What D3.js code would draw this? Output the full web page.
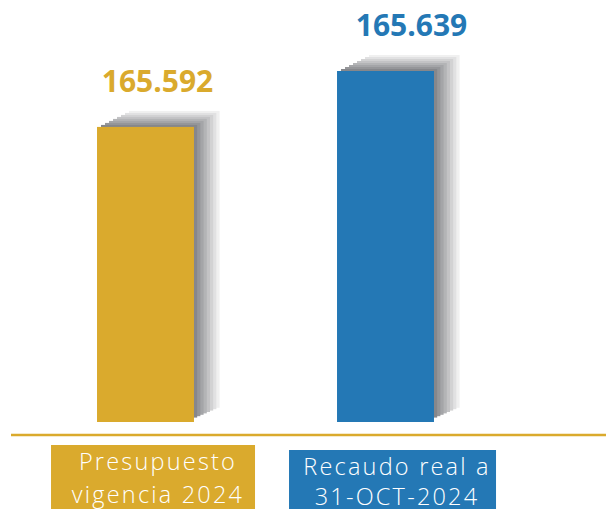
<!DOCTYPE html>
<meta charset="utf-8">
<script src="https://d3js.org/d3.v7.min.js"></script>
<style>
  body { margin: 0; background: #fff; }
</style>
<svg id="chart" width="606" height="509"></svg>
<script>
// data
const categories = ["Presupuesto vigencia 2024", "Recaudo real a 31-OCT-2024"];
const catLines = [["Presupuesto", "vigencia 2024"], ["Recaudo real a", "31-OCT-2024"]];
const values = [165592, 165639];
const valueLabels = ["165.592", "165.639"];
const colors = ["#DAAA2D", "#2478B5"];

const svg = d3.select("#chart"),
  width = +svg.attr("width"),
  height = +svg.attr("height");

const baseY = 422;

// x: two bands of 97px, 240px apart
const x = d3.scaleBand()
  .domain(categories)
  .range([25.5, 505.5])
  .paddingInner(0.596)
  .paddingOuter(0.298);

// y axis is truncated (values almost equal)
const y = d3.scaleLinear()
  .domain([165344, 165639])
  .range([baseY, 71]);

const rows = categories.map((c, i) => ({
  cat: c, value: values[i], label: valueLabels[i], color: colors[i], lines: catLines[i], i: i
}));

// stacked grey layers behind each bar to fake a 3D shadow
const nLayers = 8;
const grey = d3.scaleLinear().domain([1, nLayers]).range(["#86878b", "#f0f0f0"]);

const g = svg.append("g");

rows.forEach(d => {
  const bx = x(d.cat), bw = x.bandwidth(), by = y(d.value);
  const grp = g.append("g");
  for (let k = nLayers; k >= 1; k--) {
    const left = bx + k * 4;
    const right = bx + bw + k * 3.2;
    const top = by - k * 2;
    const bottom = baseY - 3 - k * 1.4;
    grp.append("rect")
      .attr("x", left)
      .attr("y", top)
      .attr("width", right - left)
      .attr("height", bottom - top)
      .attr("fill", grey(k));
  }
  grp.append("rect")
    .attr("x", bx)
    .attr("y", by)
    .attr("width", bw)
    .attr("height", baseY - by)
    .attr("fill", d.color);
});

// value labels
const labelDx = [12, 26];
g.selectAll(".val")
  .data(rows)
  .join("text")
  .attr("class", "val")
  .attr("x", d => x(d.cat) + x.bandwidth() / 2 + labelDx[d.i])
  .attr("y", d => y(d.value) - 35)
  .attr("text-anchor", "middle")
  .attr("fill", d => d.color)
  .style("font-family", "'Open Sans', sans-serif")
  .style("font-weight", 700)
  .style("font-size", "30px")
  .text(d => d.label);

// gold baseline
svg.append("line")
  .attr("x1", 11).attr("x2", width)
  .attr("y1", 435).attr("y2", 435)
  .attr("stroke", "#DAAA2D")
  .attr("stroke-width", 2.3);

// category boxes
const boxTop = [445, 450];
const boxW = [204, 207];
const boxDx = [-46, -48];
const textDx = [61, 60];
const lineY = [[470, 503], [475, 505]];

rows.forEach(d => {
  const bx = x(d.cat) + boxDx[d.i];
  svg.append("rect")
    .attr("x", bx)
    .attr("y", boxTop[d.i])
    .attr("width", boxW[d.i])
    .attr("height", height - boxTop[d.i])
    .attr("fill", d.color);
  d.lines.forEach((t, j) => {
    svg.append("text")
      .attr("x", x(d.cat) + textDx[d.i])
      .attr("y", lineY[d.i][j])
      .attr("text-anchor", "middle")
      .attr("fill", "#fff")
      .style("font-family", "'Open Sans', sans-serif")
      .style("font-weight", 300)
      .style("font-size", "23.5px")
      .style("letter-spacing", "2.2px")
      .text(t);
  });
});
</script>
